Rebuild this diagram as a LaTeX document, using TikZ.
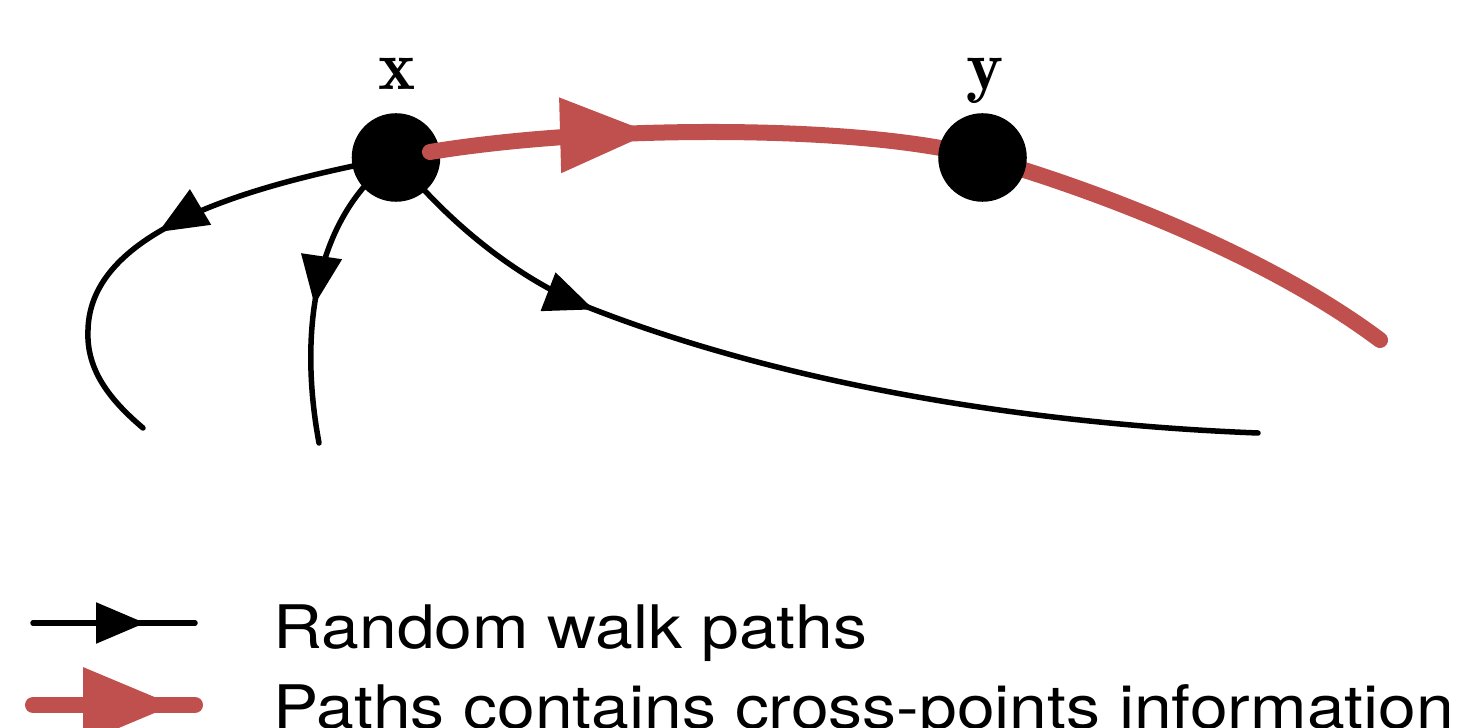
\documentclass[tikz,border=0pt]{standalone}
\usepackage{fontspec}
\newfontfamily\legendfont[FakeStretch=1.13]{TeX Gyre Heros}
\usetikzlibrary{arrows.meta,decorations.markings,backgrounds}
\definecolor{pathred}{RGB}{192,80,77}
\begin{document}
\begin{tikzpicture}[x=0.01cm,y=-0.01cm,
  dot/.style={circle,fill=black,inner sep=0pt,minimum size=0.885cm},
  lbl/.style={anchor=base,inner sep=0pt,font=\fontsize{20}{24}\selectfont},
  walk/.style={line width=0.055cm,line cap=round,black},
  redwalk/.style={line width=0.16cm,line cap=round,pathred},
  blackarrow/.style={postaction={decorate},decoration={markings,
     mark=at position #1 with {\arrow{Triangle[length=0.49cm,width=0.40cm]}}}},
  redarrow/.style={postaction={decorate},decoration={markings,
     mark=at position #1 with {\arrow{Triangle[length=0.92cm,width=0.71cm]}}}},
  legendtext/.style={anchor=base west,inner sep=0pt,font=\legendfont\fontsize{17.07}{20}\selectfont}
]
\useasboundingbox (0,0) rectangle (1464,728);

% nodes
\node[dot] (x) at (396,157.5) {};
\coordinate (yc) at (982.5,157.5);
\node[lbl] (xl) at (397,90) {$\mathbf{x}$};
\node[lbl] (yl) at (985,90) {$\mathbf{y}$};

% free ends
\coordinate (a1) at (143,428);
\coordinate (b1) at (319,443);
\coordinate (c1) at (1258,433);
\coordinate (xs) at (430,152);
\coordinate (r1) at (1380,340);

% random walk paths
\begin{scope}[on background layer]
\draw[walk, blackarrow=2.5cm] (x.center) .. controls (250,185) and (90,230) .. (88,330)
      .. controls (86,370) and (110,400) .. (a1);
\draw[walk, blackarrow=1.73cm] (x.center) .. controls (315,215) and (298,330) .. (b1);
\draw[walk, blackarrow=2.52cm] (x.center) .. controls (450,225) and (520,280) .. (590,308)
      .. controls (800,390) and (1050,425) .. (c1);
\end{scope}

% path with cross-point information
\draw[redwalk, redarrow=2.23cm] (xs) .. controls (600,124) and (870,125) .. (yc)
      .. controls (1080,185) and (1260,250) .. (r1);
\node[dot] (y) at (yc) {};

% legend
\coordinate (l1s) at (33,623);
\coordinate (l1e) at (195,623);
\coordinate (l2s) at (33,705);
\coordinate (l2e) at (195,705);
\draw[walk, blackarrow=1.12cm] (l1s) -- (l1e);
\draw[redwalk, redarrow=1.42cm] (l2s) -- (l2e);
\node[legendtext] (t1) at (273,648) {Random walk paths};
\node[legendtext] (t2) at (273,728) {Paths contains cross-points information};
\end{tikzpicture}
\end{document}
